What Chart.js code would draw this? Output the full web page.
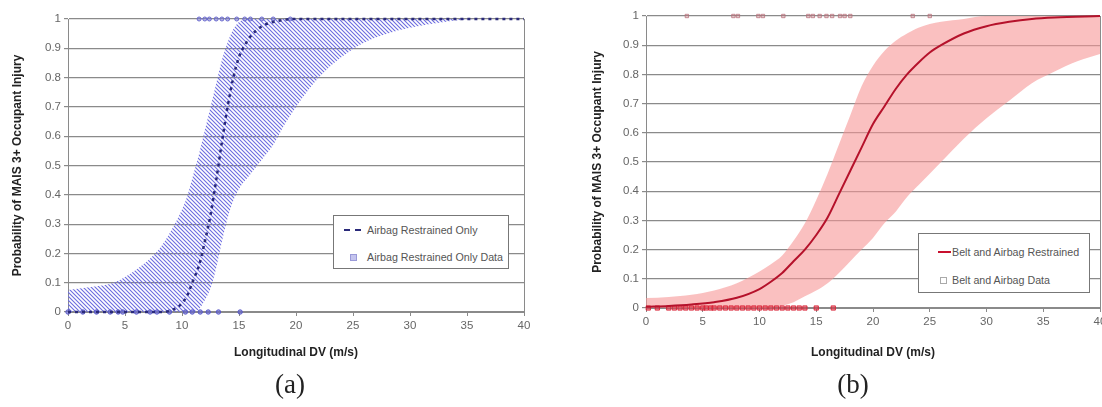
<!DOCTYPE html>
<html>
<head>
<meta charset="utf-8">
<script src="https://cdn.jsdelivr.net/npm/chart.js@4"></script>
<style>
html, body { margin: 0; padding: 0; background: #fff; }
body { width: 1102px; height: 407px; overflow: hidden; position: relative; font-family: "Liberation Sans", Arial, sans-serif; }
#wrapA { position: absolute; left: 0; top: 0; width: 545px; height: 370px; }
#wrapB { position: absolute; left: 586px; top: 0; width: 534px; height: 370px; }
.cap { position: absolute; top: 369px; font-family: "Liberation Serif", serif; font-size: 27px; color: #222; transform: translateX(-50%); }
.legend { position: absolute; background: #fff; border: 1px solid #777; box-sizing: border-box; font-size: 10.7px; color: #555; }
.row { position: absolute; left: 0; right: 0; height: 12px; line-height: 12px; white-space: nowrap; }
.row span { position: absolute; }
</style>
</head>
<body>
<div id="wrapA"><canvas id="chartA" width="545" height="370"></canvas></div>
<div id="wrapB"><canvas id="chartB" width="534" height="370"></canvas></div>

<div class="legend" style="left:333px;top:215px;width:176px;height:54px;">
  <div class="row" style="top:8px;">
    <span style="left:10px;top:5px;width:17px;border-top:2px dashed #2a2a7a;"></span>
    <span style="left:33px;">Airbag Restrained Only</span>
  </div>
  <div class="row" style="top:35px;">
    <span style="left:16px;top:3px;width:5px;height:5px;background:#c4c4ee;border:1px solid #9a9ad8;"></span>
    <span style="left:33px;">Airbag Restrained Only Data</span>
  </div>
</div>

<div class="legend" style="left:918px;top:233px;width:172px;height:60px;">
  <div class="row" style="top:12px;">
    <span style="left:19px;top:5px;width:13px;border-top:2px solid #c8102e;"></span>
    <span style="left:33px;">Belt and Airbag Restrained</span>
  </div>
  <div class="row" style="top:40px;">
    <span style="left:21px;top:3px;width:5px;height:5px;border:1px solid #aaa;"></span>
    <span style="left:33px;">Belt and Airbag Data</span>
  </div>
</div>

<div class="cap" style="left:290px;">(a)</div>
<div class="cap" style="left:853px;">(b)</div>

<script>
// tick labels
const xTicks = [0, 5, 10, 15, 20, 25, 30, 35, 40];
const yTicks = [0, 0.1, 0.2, 0.3, 0.4, 0.5, 0.6, 0.7, 0.8, 0.9, 1];
const yTickLabels = ["0", "0.1", "0.2", "0.3", "0.4", "0.5", "0.6", "0.7", "0.8", "0.9", "1"];

// (a) airbag restrained only
const curveAX = [0, 8, 9, 10, 10.5, 11, 11.5, 12, 12.5, 13, 13.5, 14, 14.5, 15, 15.5, 16, 17, 18, 20, 25, 30, 35, 40];
const curveAY = [0, 0, 0.005, 0.03, 0.06, 0.11, 0.16, 0.24, 0.33, 0.45, 0.58, 0.7, 0.8, 0.87, 0.91, 0.94, 0.975, 0.99, 1, 1, 1, 1, 1];

const bandAX     = [0, 2, 4, 6, 8, 9, 10, 10.5, 11, 11.5, 12, 12.5, 13, 13.5, 14, 14.5, 15, 16, 17, 18, 19, 20, 22, 24, 26, 28, 30, 33, 36, 40];
const bandAUpper = [0.075, 0.085, 0.1, 0.145, 0.215, 0.275, 0.35, 0.4, 0.47, 0.54, 0.62, 0.7, 0.78, 0.86, 0.92, 0.965, 0.99, 1, 1, 1, 1, 1, 1, 1, 1, 1, 1, 1, 1, 1];
const bandALower = [0, 0, 0, 0, 0, 0, 0, 0, 0, 0.01, 0.04, 0.08, 0.15, 0.24, 0.32, 0.38, 0.42, 0.47, 0.52, 0.57, 0.64, 0.7, 0.8, 0.87, 0.92, 0.95, 0.97, 0.99, 1, 1];

const dataA0 = [0, 1.3, 2.5, 3.7, 4.4, 4.8, 6, 7.2, 7.8, 8.9, 10.3, 10.9, 11.6, 12.3, 13.2, 15.1];
const dataA1 = [11.5, 12, 12.4, 13, 13.5, 14, 14.8, 15.5, 16, 17, 18, 19.5];

// (b) belt and airbag restrained
const curveBX = [0, 2, 4, 6, 8, 10, 11, 12, 13, 14, 15, 16, 17, 18, 19, 20, 21, 22, 23, 24, 25, 26, 28, 30, 32, 34, 36, 40];
const curveBY = [0.004, 0.007, 0.012, 0.02, 0.035, 0.065, 0.09, 0.12, 0.16, 0.2, 0.25, 0.31, 0.39, 0.47, 0.55, 0.63, 0.69, 0.75, 0.8, 0.84, 0.875, 0.9, 0.94, 0.965, 0.98, 0.99, 0.995, 1];

const bandBX     = [0, 2, 4, 6, 8, 10, 11, 12, 13, 14, 15, 16, 17, 18, 19, 20, 21, 22, 23, 24, 26, 28, 30, 32, 34, 36, 38, 40];
const bandBUpper = [0.034, 0.038, 0.045, 0.06, 0.085, 0.125, 0.15, 0.18, 0.23, 0.29, 0.37, 0.46, 0.56, 0.66, 0.76, 0.83, 0.88, 0.915, 0.94, 0.96, 0.98, 0.99, 1, 1, 1, 1, 1, 1];
const bandBLower = [0, 0, 0, 0, 0, 0, 0.002, 0.008, 0.02, 0.04, 0.06, 0.085, 0.12, 0.16, 0.2, 0.24, 0.29, 0.33, 0.38, 0.42, 0.5, 0.58, 0.65, 0.71, 0.77, 0.81, 0.845, 0.87];

const dataB0 = [0.2, 1, 2, 2.5, 3, 3.5, 4, 4.5, 5, 5.3, 5.7, 6, 6.5, 7, 7.5, 8, 8.5, 9, 9.5, 10, 10.5, 11, 11.5, 12, 12.5, 13, 13.5, 14, 15, 16.5];
const dataB1 = [3.6, 7.7, 8.1, 9.9, 10.3, 12.1, 14.3, 14.7, 15.3, 15.9, 16.4, 17.1, 17.5, 18, 23.5, 25];

const GRID = "#8a8a8a";
const pts = (xs, ys) => xs.map((x, i) => ({ x: x, y: ys[i] }));
const flat = (xs, v) => xs.map(x => ({ x: x, y: v }));

function hatch() {
  const c = document.createElement("canvas");
  c.width = 4; c.height = 4;
  const g = c.getContext("2d");
  g.strokeStyle = "#6c6ce0";
  g.lineWidth = 1.1;
  g.beginPath();
  g.moveTo(-1, -1); g.lineTo(5, 5);
  g.moveTo(3, -1); g.lineTo(5, 1);
  g.moveTo(-1, 3); g.lineTo(1, 5);
  g.stroke();
  return g.createPattern(c, "repeat");
}

function scales(yWidth, xHeight) {
  return {
    x: {
      type: "linear", min: 0, max: 40,
      afterBuildTicks: s => { s.ticks = xTicks.map(v => ({ value: v })); },
      afterFit: s => { s.height = xHeight; },
      grid: {
        drawOnChartArea: true,
        color: c => (c.tick && c.tick.value === 40) ? GRID : "rgba(0,0,0,0)",
        tickColor: GRID, tickLength: 4
      },
      border: { color: GRID },
      ticks: { font: { size: 11.5, family: "Liberation Sans" }, color: "#666", padding: 3, maxRotation: 0 },
      title: { display: true, text: "Longitudinal DV (m/s)", color: "#222",
               font: { size: 12, weight: "bold", family: "Liberation Sans" }, padding: { top: 4, bottom: 10 } }
    },
    y: {
      min: 0, max: 1,
      afterBuildTicks: s => { s.ticks = yTicks.map(v => ({ value: v })); },
      afterFit: s => { s.width = yWidth; },
      grid: { color: GRID, tickColor: GRID, tickLength: 4, lineWidth: 1.2 },
      border: { color: GRID },
      ticks: { callback: (v, i) => yTickLabels[i], font: { size: 11.5, family: "Liberation Sans" }, color: "#666", padding: 3 },
      title: { display: true, text: "Probability of MAIS 3+ Occupant Injury", color: "#222",
               font: { size: 12, weight: "bold", family: "Liberation Sans" }, padding: { top: 4, bottom: 4 } }
    }
  };
}

function baseOptions(yWidth, xHeight, pad) {
  return {
    responsive: false,
    animation: false,
    devicePixelRatio: 1,
    layout: { padding: pad },
    plugins: { legend: { display: false }, tooltip: { enabled: false } },
    scales: scales(yWidth, xHeight)
  };
}

new Chart(document.getElementById("chartA").getContext("2d"), {
  type: "line",
  data: {
    datasets: [
      { data: pts(curveAX, curveAY), borderColor: "#2a2a7a", borderWidth: 2.5, borderDash: [3, 4],
        pointRadius: 0, fill: false, cubicInterpolationMode: "monotone", clip: false, order: 0 },
      { data: flat(dataA0, 0), showLine: false, pointStyle: "circle", pointRadius: 2.2,
        pointBackgroundColor: "rgba(100,100,210,0.6)", pointBorderColor: "#5a5ac8", pointBorderWidth: 1, clip: false, order: 1 },
      { data: flat(dataA1, 1), showLine: false, pointStyle: "circle", pointRadius: 2,
        pointBackgroundColor: "rgba(120,120,220,0.5)", pointBorderColor: "#6a6acc", pointBorderWidth: 1, clip: false, order: 1 },
      { data: pts(bandAX, bandAUpper), borderWidth: 0, borderColor: "rgba(0,0,0,0)", pointRadius: 0,
        backgroundColor: hatch(), fill: "+1", cubicInterpolationMode: "monotone", order: 2 },
      { data: pts(bandAX, bandALower), borderWidth: 0, borderColor: "rgba(0,0,0,0)", pointRadius: 0,
        fill: false, cubicInterpolationMode: "monotone", order: 3 }
    ]
  },
  options: baseOptions(62, 58, { left: 6, top: 19, right: 21, bottom: 0 })
});

new Chart(document.getElementById("chartB").getContext("2d"), {
  type: "line",
  data: {
    datasets: [
      { data: pts(curveBX, curveBY), borderColor: "#b5122b", borderWidth: 2,
        pointRadius: 0, fill: false, cubicInterpolationMode: "monotone", clip: false, order: 0 },
      { data: flat(dataB0, 0), showLine: false, pointStyle: "rect", pointRadius: 3,
        pointBackgroundColor: "rgba(230,50,70,0.55)", pointBorderColor: "rgba(215,30,50,0.85)", pointBorderWidth: 1, clip: false, order: 1 },
      { data: flat(dataB1, 1), showLine: false, pointStyle: "rect", pointRadius: 2.4,
        pointBackgroundColor: "rgba(220,120,130,0.3)", pointBorderColor: "rgba(180,110,120,0.75)", pointBorderWidth: 1, clip: false, order: 1 },
      { data: pts(bandBX, bandBUpper), borderWidth: 0, borderColor: "rgba(0,0,0,0)", pointRadius: 0,
        backgroundColor: "rgba(247,150,150,0.6)", fill: "+1", cubicInterpolationMode: "monotone", order: 2 },
      { data: pts(bandBX, bandBLower), borderWidth: 0, borderColor: "rgba(0,0,0,0)", pointRadius: 0,
        fill: false, cubicInterpolationMode: "monotone", order: 3 }
    ]
  },
  options: baseOptions(60, 62, { left: 0, top: 16, right: 20, bottom: 0 })
});
</script>
</body>
</html>
